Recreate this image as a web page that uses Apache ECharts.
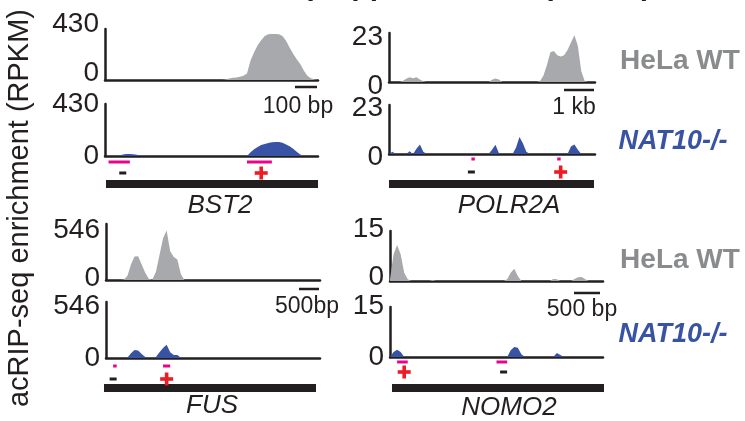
<!DOCTYPE html>
<html>
<head>
<meta charset="utf-8">
<title>acRIP-seq tracks</title>
<script src="https://cdn.jsdelivr.net/npm/echarts@6/dist/echarts.min.js"></script>
</head>
<body style="margin:0;padding:0;background:#fff;">
<div id="main" style="width:745px;height:421px;"></div>
<script type="text/javascript">
// ---------------- data (61 bins across each locus) ----------------
var genes = ['BST2', 'POLR2A', 'FUS', 'NOMO2'];
var yMax = [430, 23, 546, 15];
var scaleText = ['100 bp', '1 kb', '500bp', '500 bp'];

var bst2WT = [0,0,0,0,0,0,0,0,0,0, 0,0,0,0,0,0,0,0,0,0, 0,0,0,0,0,0,0,0,0,0,
    0,0,0,0,4,12,18,22,28,35, 55,165,235,292,335,370,385,388,388,385,
    372,330,275,222,175,135,80,35,15,4, 0];
var bst2KO = [0,0,0,0,0,12,16,16,14,10, 0,0,0,0,0,2,0,0,0,0, 0,0,0,0,0,0,0,0,0,0,
    0,0,0,0,2,0,0,0,0,0, 0,30,55,75,90,100,108,113,115,115,
    110,95,80,60,35,12,0,0,0,0, 0];
var polr2aWT = [0,0,0,0,0.5,1.5,2.2,1.8,2.2,1.2, 0.3,0,0,0,0,0,0,0,0,0, 0,0,0,0,0,0,0,0,0,0,
    1,1.6,1.2,0,0,0,0,0,0,0, 0,0,0,0,0.5,3,8,14,14.5,12.5,
    12,12.5,15,18.5,22,17,5,0.5,0,0, 0];
var polr2aKO = [0,1,0,0,0,0,1.3,0,2.5,4.5, 1,0,0,0,0,0,0,0,0,0, 0,0,0,0,0,0,0,0,0,0,
    2,4.3,0.5,0,0,0,0,3,8,5, 1,0,0,0,0,0,0,0,0,0,
    0,0,0,3.5,4.5,2,0,0,0,0, 0];
var fusWT = [0,0,0,0,0,5,40,150,230,232, 150,70,12,3,80,244,408,482,280,225,
    200,55,0,0,0,0,0,0,0,0, 0,0,0,0,0,0,0,0,0,0, 0,0,0,0,0,0,0,0,0,0,
    0,0,0,0,0,0,0,0,0,0, 0];
var fusKO = [0,0,0,0,0,0,2,46,79,72, 40,10,0,0,10,55,98,128,56,30,
    30,3,0,0,0,0,0,0,0,0, 0,0,0,0,0,0,0,0,0,0, 0,0,0,0,0,0,0,0,0,0,
    0,0,0,0,0,0,0,0,0,0, 0];
var nomo2WT = [0.5,8,10.8,8,2.5,0.5,0,0,0,0, 0,0,0.3,0,0,0,0,0,0,0, 0,0,0,0,0,0,0,0,0,0,
    0,0,0,0.5,2.5,3.7,1.5,0,0,0, 0,0,0,0,0,0,0.6,0.5,0,0,
    0,0,0.6,1.1,1.2,0.5,0,0,0,0, 0];
var nomo2KO = [0,1.5,2.2,1.5,0,0,0,0,0,0, 0,0,0,0,0,0,0,0,0,0.2, 0,0,0,0,0,0,0,0,0,0,
    0,0,0,0,2,3,2.8,0.8,0,0, 0,0,0,0,0,0,0,1.2,0.6,0,
    0,0,0,0,0,0,0,0,0,0, 0];

// magenta bars [from, to] and strand signs [bin, sign] on the KO tracks
var magBars = [[[0.6, 6.5], [40.3, 46.8]], [[23.5, 25], [48.9, 50.3]], [[1.8, 3.2], [16.1, 17.5]], [[2.3, 5.1], [30.1, 33]]];
var signs = [[[4.5, '-'], [44, '+']], [[24.2, '-'], [49.6, '+']], [[2, '-'], [16.8, '+']], [[3.7, '+'], [31.5, '-']]];

// ---------------- layout ----------------
var FONT = '"Liberation Sans", Arial, sans-serif';
var INK = '#231f20';
var GRAY = '#a7a9ac', BLUE = '#3953a4';
var grids = [
    {left: 105, top: 29, width: 213, height: 51},
    {left: 105, top: 104, width: 213, height: 52},
    {left: 389, top: 33, width: 206, height: 49},
    {left: 389, top: 105, width: 206, height: 49},
    {left: 106, top: 224, width: 214, height: 56},
    {left: 106, top: 302, width: 214, height: 56},
    {left: 390, top: 231, width: 213, height: 50},
    {left: 390, top: 307, width: 213, height: 50}
];
// vertical nudge of the max / zero tick labels (px, + = down)
var lblShift = [[-5, -7], [0, 0], [4, 4], [3, 3], [6, -2], [4, 0], [-2, -4], [-1, 0]];
var tracks = [bst2WT, bst2KO, polr2aWT, polr2aKO, fusWT, fusKO, nomo2WT, nomo2KO];
var geneBars = [[106, 180, 212, 8], [389, 180, 205, 8], [104, 384, 212, 8], [392, 384, 212, 8]];
var geneName = [[220, 206], [509, 206], [212, 406], [509, 408]];
var scaleBars = [[295, 317, 87], [564, 594, 90], [299, 319, 289], [574, 600, 293]];
var scaleLbl = [[298, 107], [574, 108], [307, 307], [582, 310]];
var magY = [162, 159, 366, 362];
var signY = [173, 172, 379, 372];

var bins = [];
for (var b = 0; b < bst2WT.length; b++) bins.push(b);

function pad(d) {
    return d >= 0 ? [2 * d, 0, 0, 0] : [0, 0, -2 * d, 0];
}

var chart = echarts.init(document.getElementById('main'));
var option = {
    animation: false,
    backgroundColor: '#ffffff',
    grid: [], xAxis: [], yAxis: [], series: []
};
for (var k = 0; k < 8; k++) {
    var g = Math.floor(k / 2);
    option.grid.push(grids[k]);
    option.xAxis.push({
        gridIndex: k, type: 'category', data: bins, boundaryGap: false,
        axisLine: {lineStyle: {color: INK, width: 2.5}},
        axisTick: {show: false}, axisLabel: {show: false}, splitLine: {show: false}
    });
    option.yAxis.push({
        gridIndex: k, type: 'value', min: 0, max: yMax[g], interval: yMax[g],
        axisLine: {show: true, lineStyle: {color: INK, width: 2.5}},
        axisTick: {show: false}, splitLine: {show: false},
        axisLabel: {
            color: INK, margin: 6,
            formatter: function (v) { return v === 0 ? '{z|0}' : '{m|' + v + '}'; },
            rich: {
                m: {fontSize: 28, fontFamily: FONT, color: INK, padding: pad(lblShift[k][0])},
                z: {fontSize: 28, fontFamily: FONT, color: INK, padding: pad(lblShift[k][1])}
            }
        }
    });
    option.series.push({
        type: 'line', xAxisIndex: k, yAxisIndex: k, data: tracks[k],
        symbol: 'none', lineStyle: {width: 0},
        areaStyle: {color: k % 2 ? BLUE : GRAY, opacity: 1}
    });
}
chart.setOption(option);

// ---------------- annotations ----------------
var gr = [];
gr.push({type: 'text', x: 303, y: 2, style: {text: '(Supplemental replicate)', font: 'bold 30px ' + FONT, fill: INK, verticalAlign: 'bottom'}});
gr.push({type: 'text', x: 20, y: 208, rotation: Math.PI / 2,
    style: {text: 'acRIP-seq enrichment (RPKM)', font: '29px ' + FONT, fill: INK, align: 'center', verticalAlign: 'middle'}});
[61, 260].forEach(function (y) {
    gr.push({type: 'text', x: 680, y: y, style: {text: 'HeLa WT', font: 'bold 28px ' + FONT, fill: '#8a8b8d', align: 'center', verticalAlign: 'middle'}});
});
[142, 335].forEach(function (y) {
    gr.push({type: 'text', x: 673, y: y, style: {text: 'NAT10-/-', font: 'italic bold 27px ' + FONT, fill: BLUE, align: 'center', verticalAlign: 'middle'}});
});
for (var i = 0; i < 4; i++) {
    var gb = geneBars[i];
    gr.push({type: 'rect', shape: {x: gb[0], y: gb[1], width: gb[2], height: gb[3]}, style: {fill: INK}});
    gr.push({type: 'text', x: geneName[i][0], y: geneName[i][1], style: {text: genes[i], font: 'italic 26px ' + FONT, fill: INK, align: 'center', verticalAlign: 'middle'}});
    var sb = scaleBars[i];
    gr.push({type: 'line', shape: {x1: sb[0], y1: sb[2], x2: sb[1], y2: sb[2]}, style: {stroke: INK, lineWidth: 2.5}});
    gr.push({type: 'text', x: scaleLbl[i][0], y: scaleLbl[i][1], style: {text: scaleText[i], font: '23px ' + FONT, fill: INK, align: 'center', verticalAlign: 'middle'}});
    var ko = 2 * i + 1;
    magBars[i].forEach(function (m) {
        var a = chart.convertToPixel({xAxisIndex: ko}, m[0]);
        var c = chart.convertToPixel({xAxisIndex: ko}, m[1]);
        gr.push({type: 'rect', shape: {x: a, y: magY[i] - 1.5, width: c - a, height: 3}, style: {fill: '#ec008c'}});
    });
    signs[i].forEach(function (s) {
        var px = chart.convertToPixel({xAxisIndex: ko}, s[0]);
        var y = signY[i];
        if (s[1] === '+') {
            gr.push({type: 'rect', shape: {x: px - 6.5, y: y - 1.8, width: 13, height: 3.6}, style: {fill: '#ed1c24'}});
            gr.push({type: 'rect', shape: {x: px - 1.8, y: y - 6.5, width: 3.6, height: 13}, style: {fill: '#ed1c24'}});
        } else {
            gr.push({type: 'rect', shape: {x: px - 3.5, y: y - 1.5, width: 7, height: 3}, style: {fill: INK}});
        }
    });
}
chart.setOption({graphic: gr});
</script>
</body>
</html>
